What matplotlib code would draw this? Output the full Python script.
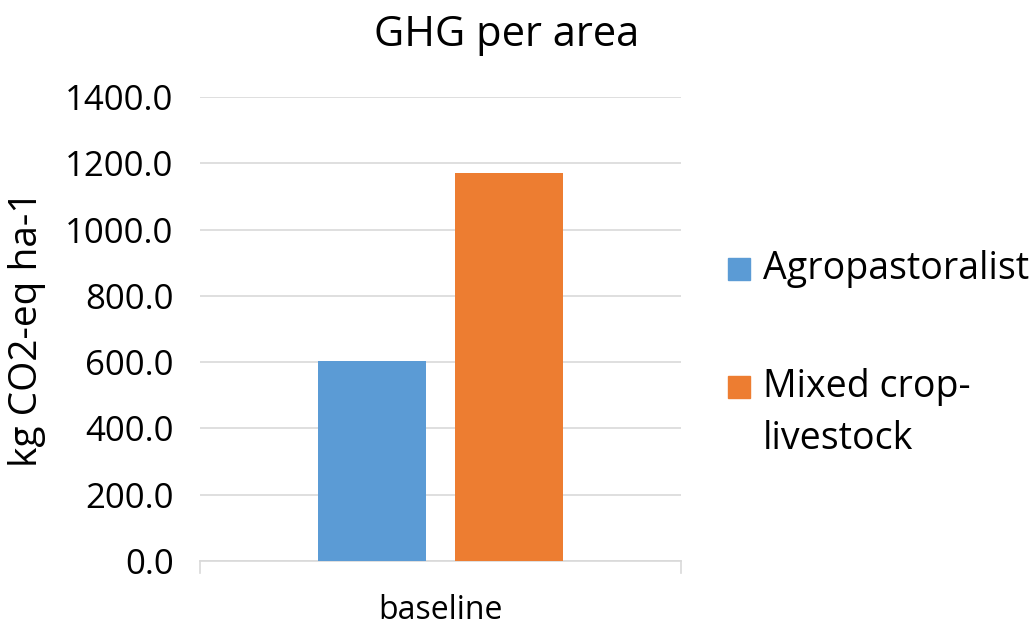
import numpy as np
import matplotlib.pyplot as plt
from matplotlib.patches import Rectangle

categories = ['baseline']
series_names = ['Agropastoralist', 'Mixed crop-\nlivestock']
series_values = [605.0, 1170.0]
series_colors = ['#5B9BD5', '#ED7D31']
yticks = [0, 200, 400, 600, 800, 1000, 1200, 1400]

plt.rcParams['font.family'] = ['Open Sans', 'DejaVu Sans']

fig = plt.figure(figsize=(10.33, 6.26), dpi=100)
ax = fig.add_axes([0.1936, 0.1038, 0.4656, 0.7412])

width = 0.2245
gap = 0.06
offsets = [-(width + gap) / 2, (width + gap) / 2]
for i, name in enumerate(series_names):
    ax.bar(0 + offsets[i], series_values[i], width, color=series_colors[i], zorder=3)

ax.set_xlim(-0.5, 0.5)
ax.set_ylim(0, 1400)
ax.set_yticks(yticks)
ax.set_yticklabels(['%.1f' % v for v in yticks], fontsize=25)
ax.set_xticks([0])
ax.set_xticklabels(categories, fontsize=23)
ax.yaxis.grid(True, color='#D9D9D9', linewidth=1.2, zorder=0)
ax.tick_params(axis='y', length=0, pad=19)
ax.tick_params(axis='x', length=0, pad=24)
for s in ['top', 'right', 'left']:
    ax.spines[s].set_visible(False)
ax.spines['bottom'].set_color('#D9D9D9')
ax.spines['bottom'].set_linewidth(1.2)
# little category boundary ticks under the axis
for xb in [-0.5, 0.5]:
    ax.plot([xb, xb], [0, -36], color='#D9D9D9', linewidth=1.2, clip_on=False)

fig.text(27 / 1033, 0.4744, 'kg CO2-eq ha-1', rotation=90, ha='center', va='center', fontsize=28)
fig.text(0.49, 0.944, 'GHG per area', ha='center', va='center', fontsize=30)

# legend drawn like the Excel one: square aligned with first text line
leg_y = [0.570, 0.381]
sq_h = 22 / 626
sq_w = 22 / 1033
for i, name in enumerate(series_names):
    fig.add_artist(Rectangle((0.7048, leg_y[i] - sq_h / 2), sq_w, sq_h,
                             transform=fig.transFigure, color=series_colors[i]))
    fig.text(0.7386, leg_y[i] + sq_h / 2 + 8 / 626, name, va='top', ha='left',
             fontsize=27, linespacing=1.45)

fig.savefig('out.png', dpi=100)
